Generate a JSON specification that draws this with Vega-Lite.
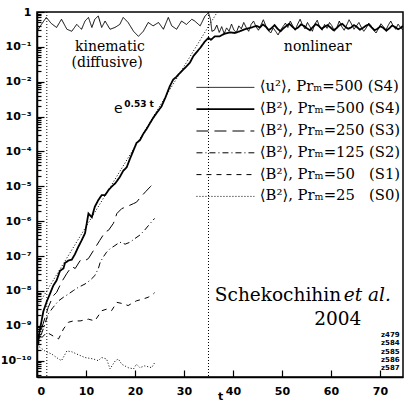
{
  "$schema": "https://vega.github.io/schema/vega-lite/v6.json",
  "width": 366,
  "height": 365,
  "autosize": {"type": "none"},
  "padding": {"left": 37, "top": 12, "right": 1, "bottom": 31},
  "background": "white",
  "config": {
    "view": {"stroke": "black", "strokeWidth": 1.5},
    "axis": {"grid": false, "domainColor": "black", "domainWidth": 1.5, "tickColor": "black", "tickWidth": 1.2, "labelColor": "black", "labelFont": "DejaVu Sans", "labelFontWeight": "bold", "labelFontSize": 11, "titleFont": "DejaVu Sans", "titleFontWeight": "bold", "titleFontSize": 11, "titleColor": "black", "labelOverlap": false},
    "text": {"color": "black"}
  },
  "datasets": {
    "curves": [
      {"s":"u","t":0,"v":0.28},{"s":"u","t":0.9,"v":0.44},{"s":"u","t":1.9,"v":0.7},{"s":"u","t":2.9,"v":0.47},{"s":"u","t":4,"v":0.36},{"s":"u","t":5,"v":0.62},{"s":"u","t":6.1,"v":0.32},{"s":"u","t":7.1,"v":0.28},{"s":"u","t":8.1,"v":0.44},{"s":"u","t":9.1,"v":0.32},{"s":"u","t":9.8,"v":0.55},{"s":"u","t":10.5,"v":0.7},{"s":"u","t":11.2,"v":0.36},{"s":"u","t":11.8,"v":0.62},{"s":"u","t":12.5,"v":0.77},{"s":"u","t":13.2,"v":0.36},{"s":"u","t":13.9,"v":0.55},{"s":"u","t":14.9,"v":0.32},{"s":"u","t":15.9,"v":0.36},{"s":"u","t":16.9,"v":0.44},{"s":"u","t":17.6,"v":0.7},{"s":"u","t":18.6,"v":0.5},{"s":"u","t":19.7,"v":0.28},{"s":"u","t":20.7,"v":0.2},{"s":"u","t":21.7,"v":0.28},{"s":"u","t":22.7,"v":0.5},{"s":"u","t":23.7,"v":0.4},{"s":"u","t":24.8,"v":0.5},{"s":"u","t":25.8,"v":0.32},{"s":"u","t":26.8,"v":0.7},{"s":"u","t":27.5,"v":0.4},{"s":"u","t":28.5,"v":0.32},{"s":"u","t":29.5,"v":0.55},{"s":"u","t":30.5,"v":0.44},{"s":"u","t":31.6,"v":0.62},{"s":"u","t":32.2,"v":0.55},{"s":"u","t":33.3,"v":0.4},{"s":"u","t":34.3,"v":0.77},{"s":"u","t":35,"v":0.95},{"s":"u","t":35.4,"v":0.62},{"s":"u","t":35.7,"v":0.28},
      {"s":"u","t":36.2,"v":0.3},{"s":"u","t":36.7,"v":0.42},{"s":"u","t":37.2,"v":0.26},{"s":"u","t":37.7,"v":0.38},{"s":"u","t":38.2,"v":0.24},{"s":"u","t":38.7,"v":0.35},{"s":"u","t":39.2,"v":0.28},{"s":"u","t":39.7,"v":0.45},{"s":"u","t":40.2,"v":0.3},{"s":"u","t":40.7,"v":0.26},{"s":"u","t":41.2,"v":0.4},{"s":"u","t":41.7,"v":0.33},{"s":"u","t":42.2,"v":0.5},{"s":"u","t":42.7,"v":0.36},{"s":"u","t":43.2,"v":0.28},{"s":"u","t":43.7,"v":0.44},{"s":"u","t":44.2,"v":0.55},{"s":"u","t":44.7,"v":0.38},{"s":"u","t":45.2,"v":0.3},{"s":"u","t":45.7,"v":0.42},{"s":"u","t":46.2,"v":0.6},{"s":"u","t":46.7,"v":0.4},{"s":"u","t":47.2,"v":0.3},{"s":"u","t":47.7,"v":0.25},{"s":"u","t":48.2,"v":0.35},{"s":"u","t":48.7,"v":0.28},{"s":"u","t":49.2,"v":0.22},{"s":"u","t":49.7,"v":0.3},{"s":"u","t":50.2,"v":0.38},{"s":"u","t":50.7,"v":0.48},{"s":"u","t":51.2,"v":0.36},{"s":"u","t":51.7,"v":0.55},{"s":"u","t":52.2,"v":0.4},{"s":"u","t":52.7,"v":0.3},{"s":"u","t":53.2,"v":0.45},{"s":"u","t":53.7,"v":0.62},{"s":"u","t":54.2,"v":0.42},{"s":"u","t":54.7,"v":0.33},{"s":"u","t":55.2,"v":0.5},{"s":"u","t":55.7,"v":0.38},{"s":"u","t":56.2,"v":0.28},{"s":"u","t":56.7,"v":0.45},{"s":"u","t":57.2,"v":0.58},{"s":"u","t":57.7,"v":0.36},{"s":"u","t":58.2,"v":0.3},{"s":"u","t":58.7,"v":0.44},{"s":"u","t":59.2,"v":0.34},{"s":"u","t":59.7,"v":0.5},{"s":"u","t":60.2,"v":0.4},{"s":"u","t":60.7,"v":0.28},{"s":"u","t":61.2,"v":0.36},{"s":"u","t":61.7,"v":0.55},{"s":"u","t":62.2,"v":0.38},{"s":"u","t":62.7,"v":0.3},{"s":"u","t":63.2,"v":0.42},{"s":"u","t":63.7,"v":0.6},{"s":"u","t":64.2,"v":0.45},{"s":"u","t":64.7,"v":0.32},{"s":"u","t":65.2,"v":0.4},{"s":"u","t":65.7,"v":0.5},{"s":"u","t":66.2,"v":0.36},{"s":"u","t":66.7,"v":0.28},{"s":"u","t":67.2,"v":0.35},{"s":"u","t":67.7,"v":0.48},{"s":"u","t":68.2,"v":0.4},{"s":"u","t":68.7,"v":0.3},{"s":"u","t":69.2,"v":0.25},{"s":"u","t":69.7,"v":0.34},{"s":"u","t":70.2,"v":0.46},{"s":"u","t":70.7,"v":0.38},{"s":"u","t":71.2,"v":0.3},{"s":"u","t":71.7,"v":0.42},{"s":"u","t":72.2,"v":0.55},{"s":"u","t":72.7,"v":0.4},{"s":"u","t":73.2,"v":0.32},{"s":"u","t":73.7,"v":0.45},{"s":"u","t":74.2,"v":0.36},{"s":"u","t":74.7,"v":0.3},
      {"s":"S4","t":0,"v":2.6e-10},{"s":"S4","t":0.6,"v":7.9e-10},{"s":"S4","t":1.3,"v":2.6e-9},{"s":"S4","t":2,"v":5e-9},{"s":"S4","t":2.65,"v":8.3e-9},{"s":"S4","t":3.3,"v":1.4e-8},{"s":"S4","t":4,"v":2e-8},{"s":"S4","t":4.7,"v":3.8e-8},{"s":"S4","t":5.4,"v":4.4e-8},{"s":"S4","t":5.7,"v":6.3e-8},{"s":"S4","t":6.4,"v":7.4e-8},{"s":"S4","t":7.1,"v":7.9e-8},{"s":"S4","t":7.7,"v":1.1e-7},{"s":"S4","t":8.4,"v":1.8e-7},{"s":"S4","t":9.1,"v":2.8e-7},{"s":"S4","t":9.8,"v":4.5e-7},{"s":"S4","t":10.5,"v":1.66e-6},{"s":"S4","t":11.2,"v":1.3e-6},{"s":"S4","t":11.8,"v":2.6e-6},{"s":"S4","t":12.5,"v":4e-6},{"s":"S4","t":13.2,"v":5.6e-6},{"s":"S4","t":13.9,"v":5.6e-6},{"s":"S4","t":14.6,"v":7.8e-6},{"s":"S4","t":15.3,"v":1e-5},{"s":"S4","t":16,"v":1.23e-5},{"s":"S4","t":16.9,"v":1.86e-5},{"s":"S4","t":17.6,"v":2.8e-5},{"s":"S4","t":18.3,"v":3.5e-5},{"s":"S4","t":19,"v":6.3e-5},{"s":"S4","t":19.6,"v":1e-4},{"s":"S4","t":20.3,"v":1.74e-4},{"s":"S4","t":21,"v":2.1e-4},{"s":"S4","t":21.7,"v":3.2e-4},{"s":"S4","t":22.4,"v":4.5e-4},{"s":"S4","t":23.1,"v":6.6e-4},{"s":"S4","t":23.7,"v":9.1e-4},{"s":"S4","t":24.4,"v":1.26e-3},{"s":"S4","t":25.4,"v":1.95e-3},{"s":"S4","t":26.2,"v":3.5e-3},{"s":"S4","t":27.1,"v":7.4e-3},{"s":"S4","t":27.8,"v":1.15e-2},{"s":"S4","t":28.5,"v":1.4e-2},{"s":"S4","t":29.2,"v":1.8e-2},{"s":"S4","t":30.5,"v":2.75e-2},{"s":"S4","t":31.2,"v":3.5e-2},{"s":"S4","t":31.9,"v":5.4e-2},{"s":"S4","t":32.6,"v":7.1e-2},{"s":"S4","t":33.3,"v":9.3e-2},{"s":"S4","t":34.3,"v":0.145},{"s":"S4","t":35,"v":0.18},{"s":"S4","t":35.5,"v":0.16},{"s":"S4","t":36.3,"v":0.2},{"s":"S4","t":37.3,"v":0.2},{"s":"S4","t":38.3,"v":0.24},{"s":"S4","t":39.4,"v":0.26},{"s":"S4","t":40.4,"v":0.25},{"s":"S4","t":41.4,"v":0.28},{"s":"S4","t":42.4,"v":0.32},{"s":"S4","t":43.5,"v":0.35},{"s":"S4","t":44.8,"v":0.4},
      {"s":"S4","t":45.5,"v":0.36},{"s":"S4","t":46.1,"v":0.44},{"s":"S4","t":46.7,"v":0.38},{"s":"S4","t":47.3,"v":0.3},{"s":"S4","t":47.9,"v":0.35},{"s":"S4","t":48.5,"v":0.42},{"s":"S4","t":49.1,"v":0.33},{"s":"S4","t":49.7,"v":0.28},{"s":"S4","t":50.3,"v":0.34},{"s":"S4","t":50.9,"v":0.4},{"s":"S4","t":51.5,"v":0.46},{"s":"S4","t":52.1,"v":0.38},{"s":"S4","t":52.7,"v":0.32},{"s":"S4","t":53.3,"v":0.36},{"s":"S4","t":53.9,"v":0.44},{"s":"S4","t":54.5,"v":0.4},{"s":"S4","t":55.1,"v":0.34},{"s":"S4","t":55.7,"v":0.3},{"s":"S4","t":56.3,"v":0.37},{"s":"S4","t":56.9,"v":0.45},{"s":"S4","t":57.5,"v":0.4},{"s":"S4","t":58.1,"v":0.33},{"s":"S4","t":58.7,"v":0.38},{"s":"S4","t":59.3,"v":0.42},{"s":"S4","t":59.9,"v":0.36},{"s":"S4","t":60.5,"v":0.3},{"s":"S4","t":61.1,"v":0.34},{"s":"S4","t":61.7,"v":0.41},{"s":"S4","t":62.3,"v":0.46},{"s":"S4","t":62.9,"v":0.38},{"s":"S4","t":63.5,"v":0.33},{"s":"S4","t":64.1,"v":0.36},{"s":"S4","t":64.7,"v":0.42},{"s":"S4","t":65.3,"v":0.37},{"s":"S4","t":65.9,"v":0.31},{"s":"S4","t":66.5,"v":0.35},{"s":"S4","t":67.1,"v":0.4},{"s":"S4","t":67.7,"v":0.44},{"s":"S4","t":68.3,"v":0.36},{"s":"S4","t":68.9,"v":0.3},{"s":"S4","t":69.5,"v":0.33},{"s":"S4","t":70.1,"v":0.39},{"s":"S4","t":70.7,"v":0.35},{"s":"S4","t":71.3,"v":0.29},{"s":"S4","t":71.9,"v":0.34},{"s":"S4","t":72.5,"v":0.41},{"s":"S4","t":73.1,"v":0.37},{"s":"S4","t":73.7,"v":0.32},{"s":"S4","t":74.3,"v":0.36},{"s":"S4","t":74.7,"v":0.4},
      {"s":"S3","t":0,"v":2.5e-10},{"s":"S3","t":1,"v":8.9e-10},{"s":"S3","t":2.3,"v":3.4e-9},{"s":"S3","t":3.3,"v":7.2e-9},{"s":"S3","t":4,"v":9.1e-9},{"s":"S3","t":5,"v":1.78e-8},{"s":"S3","t":6.1,"v":3.2e-8},{"s":"S3","t":7.1,"v":5e-8},{"s":"S3","t":7.8,"v":4.4e-8},{"s":"S3","t":8.8,"v":7.4e-8},{"s":"S3","t":9.6,"v":7.1e-8},{"s":"S3","t":10.5,"v":8.5e-8},{"s":"S3","t":11.8,"v":1.66e-7},{"s":"S3","t":12.8,"v":2.8e-7},{"s":"S3","t":13.9,"v":4.9e-7},{"s":"S3","t":14.6,"v":5.5e-7},{"s":"S3","t":15.6,"v":8.7e-7},{"s":"S3","t":16.3,"v":1.66e-6},{"s":"S3","t":17.3,"v":2.3e-6},{"s":"S3","t":18.3,"v":2.6e-6},{"s":"S3","t":19.7,"v":3.2e-6},{"s":"S3","t":20.3,"v":3.5e-6},{"s":"S3","t":21.2,"v":5e-6},{"s":"S3","t":22.2,"v":7.1e-6},{"s":"S3","t":23.2,"v":1e-5},{"s":"S3","t":24,"v":1.32e-5},
      {"s":"S2","t":0,"v":2.5e-10},{"s":"S2","t":1,"v":6.3e-10},{"s":"S2","t":2.3,"v":2.2e-9},{"s":"S2","t":3.3,"v":3.4e-9},{"s":"S2","t":4.4,"v":5.2e-9},{"s":"S2","t":5.4,"v":6.6e-9},{"s":"S2","t":6.4,"v":8.1e-9},{"s":"S2","t":7.4,"v":1.02e-8},{"s":"S2","t":8.4,"v":1.26e-8},{"s":"S2","t":9.8,"v":1.58e-8},{"s":"S2","t":10.8,"v":2e-8},{"s":"S2","t":11.8,"v":2.75e-8},{"s":"S2","t":12.5,"v":4.3e-8},{"s":"S2","t":12.9,"v":6.6e-8},{"s":"S2","t":13.5,"v":9.3e-8},{"s":"S2","t":14.2,"v":1.29e-7},{"s":"S2","t":14.9,"v":1.62e-7},{"s":"S2","t":15.9,"v":2e-7},{"s":"S2","t":16.9,"v":2.5e-7},{"s":"S2","t":18,"v":2.2e-7},{"s":"S2","t":19,"v":2.5e-7},{"s":"S2","t":20,"v":3.2e-7},{"s":"S2","t":21,"v":4e-7},{"s":"S2","t":22,"v":5.6e-7},{"s":"S2","t":23,"v":8.3e-7},{"s":"S2","t":24,"v":1.2e-6},
      {"s":"S1","t":0,"v":2.5e-10},{"s":"S1","t":1,"v":4.6e-10},{"s":"S1","t":2,"v":6.5e-10},{"s":"S1","t":3.3,"v":5.1e-10},{"s":"S1","t":4.4,"v":4.2e-10},{"s":"S1","t":5.4,"v":8.1e-10},{"s":"S1","t":6.4,"v":1.26e-9},{"s":"S1","t":7.4,"v":1.38e-9},{"s":"S1","t":8.8,"v":1.38e-9},{"s":"S1","t":10.5,"v":1.55e-9},{"s":"S1","t":11.8,"v":1.38e-9},{"s":"S1","t":13.2,"v":2.7e-9},{"s":"S1","t":14.2,"v":3e-9},{"s":"S1","t":15.2,"v":2.7e-9},{"s":"S1","t":16.3,"v":4.7e-9},{"s":"S1","t":17.6,"v":4.3e-9},{"s":"S1","t":18.6,"v":3.8e-9},{"s":"S1","t":19.7,"v":4.7e-9},{"s":"S1","t":20.3,"v":5.2e-9},{"s":"S1","t":21.7,"v":5.9e-9},{"s":"S1","t":22.7,"v":6.6e-9},{"s":"S1","t":23.7,"v":8.1e-9},{"s":"S1","t":24,"v":8.9e-9},
      {"s":"S0","t":0,"v":2.8e-10},{"s":"S0","t":0.3,"v":2.6e-10},{"s":"S0","t":1.6,"v":1.9e-10},{"s":"S0","t":3,"v":1.55e-10},{"s":"S0","t":4.4,"v":1.12e-10},{"s":"S0","t":5,"v":1e-10},{"s":"S0","t":6.1,"v":1.9e-10},{"s":"S0","t":7.1,"v":1.8e-10},{"s":"S0","t":8.1,"v":1.55e-10},{"s":"S0","t":9.8,"v":1.23e-10},{"s":"S0","t":11.5,"v":1.12e-10},{"s":"S0","t":12.5,"v":1e-10},{"s":"S0","t":13.2,"v":1.23e-10},{"s":"S0","t":14.2,"v":1.12e-10},{"s":"S0","t":14.9,"v":5.8e-11},{"s":"S0","t":16,"v":1e-10},{"s":"S0","t":16.6,"v":1.12e-10},{"s":"S0","t":17.3,"v":7.9e-11},{"s":"S0","t":18.6,"v":6.3e-11},{"s":"S0","t":19.7,"v":5.8e-11},{"s":"S0","t":20.3,"v":7.9e-11},{"s":"S0","t":21,"v":6.3e-11},{"s":"S0","t":22,"v":7.1e-11},{"s":"S0","t":23.4,"v":6.3e-11},{"s":"S0","t":24,"v":8.7e-11}
    ],
    "fit": [{"t":0,"v":3.5e-9},{"t":36.8,"v":1.0}],
    "vlines": [{"t":2},{"t":35}],
    "notes": [
      {"k":"regime","t":14.9,"v":0.1,"label":"kinematic"},
      {"k":"regime","t":14.3,"v":0.0355,"label":"(diffusive)"},
      {"k":"regime","t":57.3,"v":0.1,"label":"nonlinear"},
      {"k":"e","t":15.7,"v":1.66e-3,"label":"e"},
      {"k":"exp","t":17.8,"v":2.34e-3,"label":"0.53 t"},
      {"k":"author","t":36.3,"v":7.8e-9,"label":"Schekochihin"},
      {"k":"etal","t":62.6,"v":7.8e-9,"label":"et al."},
      {"k":"year","t":61.4,"v":1.55e-9,"label":"2004"},
      {"k":"z","t":70.2,"v":5.5e-10,"label":"z479"},
      {"k":"z","t":70.2,"v":3.2e-10,"label":"z584"},
      {"k":"z","t":70.2,"v":1.8e-10,"label":"z585"},
      {"k":"z","t":70.2,"v":1.05e-10,"label":"z586"},
      {"k":"z","t":70.2,"v":6.2e-11,"label":"z587"}
    ]
  },
  "layer": [
    {
      "data": {"name": "curves"},
      "mark": {"type": "line", "color": "black", "clip": true},
      "encoding": {
        "x": {"field": "t", "type": "quantitative", "scale": {"domain": [0, 74.7], "nice": false, "zero": false},
          "axis": {"orient": "bottom", "values": [0,5,10,15,20,25,30,35,40,45,50,55,60,65,70], "format": "d",
            "labelExpr": "datum.value % 10 == 0 ? datum.label : ''",
            "tickSize": {"condition": {"test": "datum.value % 10 == 0", "value": -7}, "value": -4},
            "labelPadding": 15, "title": "t", "titlePadding": -6}},
        "y": {"field": "v", "type": "quantitative", "scale": {"type": "log", "domain": [3.4e-11, 1], "nice": false},
          "axis": {"orient": "left", "title": null,
            "values": [4e-11,5e-11,6e-11,7e-11,8e-11,9e-11,1e-10,2e-10,3e-10,4e-10,5e-10,6e-10,7e-10,8e-10,9e-10,1e-9,2e-9,3e-9,4e-9,5e-9,6e-9,7e-9,8e-9,9e-9,1e-8,2e-8,3e-8,4e-8,5e-8,6e-8,7e-8,8e-8,9e-8,1e-7,2e-7,3e-7,4e-7,5e-7,6e-7,7e-7,8e-7,9e-7,1e-6,2e-6,3e-6,4e-6,5e-6,6e-6,7e-6,8e-6,9e-6,1e-5,2e-5,3e-5,4e-5,5e-5,6e-5,7e-5,8e-5,9e-5,1e-4,2e-4,3e-4,4e-4,5e-4,6e-4,7e-4,8e-4,9e-4,1e-3,2e-3,3e-3,4e-3,5e-3,6e-3,7e-3,8e-3,9e-3,1e-2,2e-2,3e-2,4e-2,5e-2,6e-2,7e-2,8e-2,9e-2,0.1,0.2,0.3,0.4,0.5,0.6,0.7,0.8,0.9,1],
            "labelExpr": "abs(log(datum.value)/LN10 - round(log(datum.value)/LN10)) > 0.001 ? '' : (datum.value >= 0.999 ? '1' : '10⁻' + (round(-log(datum.value)/LN10) == 10 ? '¹⁰' : ['','¹','²','³','⁴','⁵','⁶','⁷','⁸','⁹'][round(-log(datum.value)/LN10)]))",
            "tickSize": {"condition": {"test": "abs(log(datum.value)/LN10 - round(log(datum.value)/LN10)) < 0.001", "value": -7}, "value": -4},
            "labelPadding": 13}},
        "strokeDash": {"field": "s", "type": "nominal",
          "scale": {"domain": ["u","S4","S3","S2","S1","S0"], "range": [[1,0],[1,0],[12,6],[6,3,1,3],[5,5],[1,2]]},
          "legend": {"orient": "none", "legendX": 181, "legendY": 68, "title": null, "symbolType": "M-5,0H5", "symbolSize": 134, "symbolStrokeColor": "black", "symbolFillColor": "transparent", "labelFont": "DejaVu Serif", "labelFontSize": 14.8, "labelColor": "black", "labelOffset": 27, "rowPadding": 5.8, "padding": 0, "labelLimit": 300,
            "labelExpr": "datum.label == 'u' ? '⟨u²⟩, Prₘ=500 (S4)' : datum.label == 'S4' ? '⟨B²⟩, Prₘ=500 (S4)' : datum.label == 'S3' ? '⟨B²⟩, Prₘ=250 (S3)' : datum.label == 'S2' ? '⟨B²⟩, Prₘ=125 (S2)' : datum.label == 'S1' ? '⟨B²⟩, Prₘ=50\u2007 (S1)' : '⟨B²⟩, Prₘ=25\u2007 (S0)'"}},
        "strokeWidth": {"field": "s", "type": "nominal",
          "scale": {"type": "ordinal", "domain": ["u","S4","S3","S2","S1","S0"], "range": [1,1.8,1,1,1,1]},
          "legend": {"orient": "none", "legendX": 181, "legendY": 68, "title": null, "symbolType": "M-5,0H5", "symbolSize": 134, "symbolStrokeColor": "black", "symbolFillColor": "transparent", "labelFont": "DejaVu Serif", "labelFontSize": 14.8, "labelColor": "black", "labelOffset": 27, "rowPadding": 5.8, "padding": 0, "labelLimit": 300,
            "labelExpr": "datum.label == 'u' ? '⟨u²⟩, Prₘ=500 (S4)' : datum.label == 'S4' ? '⟨B²⟩, Prₘ=500 (S4)' : datum.label == 'S3' ? '⟨B²⟩, Prₘ=250 (S3)' : datum.label == 'S2' ? '⟨B²⟩, Prₘ=125 (S2)' : datum.label == 'S1' ? '⟨B²⟩, Prₘ=50\u2007 (S1)' : '⟨B²⟩, Prₘ=25\u2007 (S0)'"}}
      }
    },
    {
      "data": {"name": "fit"},
      "mark": {"type": "line", "color": "black", "strokeWidth": 1, "strokeDash": [1, 2], "clip": true},
      "encoding": {
        "x": {"field": "t", "type": "quantitative"},
        "y": {"field": "v", "type": "quantitative"}
      }
    },
    {
      "data": {"name": "vlines"},
      "mark": {"type": "rule", "color": "black", "strokeWidth": 1, "strokeDash": [1, 2]},
      "encoding": {"x": {"field": "t", "type": "quantitative"}}
    },
    {
      "data": {"name": "notes"},
      "transform": [{"filter": "datum.k == 'regime'"}],
      "mark": {"type": "text", "font": "DejaVu Serif", "fontSize": 14, "align": "center", "baseline": "middle"},
      "encoding": {"x": {"field": "t", "type": "quantitative"}, "y": {"field": "v", "type": "quantitative"}, "text": {"field": "label"}}
    },
    {
      "data": {"name": "notes"},
      "transform": [{"filter": "datum.k == 'e'"}],
      "mark": {"type": "text", "font": "DejaVu Sans", "fontSize": 14, "align": "left", "baseline": "middle"},
      "encoding": {"x": {"field": "t", "type": "quantitative"}, "y": {"field": "v", "type": "quantitative"}, "text": {"field": "label"}}
    },
    {
      "data": {"name": "notes"},
      "transform": [{"filter": "datum.k == 'exp'"}],
      "mark": {"type": "text", "font": "DejaVu Sans", "fontSize": 9, "fontWeight": "bold", "align": "left", "baseline": "middle"},
      "encoding": {"x": {"field": "t", "type": "quantitative"}, "y": {"field": "v", "type": "quantitative"}, "text": {"field": "label"}}
    },
    {
      "data": {"name": "notes"},
      "transform": [{"filter": "datum.k == 'author'"}],
      "mark": {"type": "text", "font": "DejaVu Serif", "fontSize": 18.5, "align": "left", "baseline": "middle"},
      "encoding": {"x": {"field": "t", "type": "quantitative"}, "y": {"field": "v", "type": "quantitative"}, "text": {"field": "label"}}
    },
    {
      "data": {"name": "notes"},
      "transform": [{"filter": "datum.k == 'etal'"}],
      "mark": {"type": "text", "font": "DejaVu Serif", "fontSize": 18.5, "fontStyle": "italic", "align": "left", "baseline": "middle"},
      "encoding": {"x": {"field": "t", "type": "quantitative"}, "y": {"field": "v", "type": "quantitative"}, "text": {"field": "label"}}
    },
    {
      "data": {"name": "notes"},
      "transform": [{"filter": "datum.k == 'year'"}],
      "mark": {"type": "text", "font": "DejaVu Serif", "fontSize": 18.5, "align": "center", "baseline": "middle"},
      "encoding": {"x": {"field": "t", "type": "quantitative"}, "y": {"field": "v", "type": "quantitative"}, "text": {"field": "label"}}
    },
    {
      "data": {"name": "notes"},
      "transform": [{"filter": "datum.k == 'z'"}],
      "mark": {"type": "text", "font": "DejaVu Sans", "fontSize": 7, "fontWeight": "bold", "align": "left", "baseline": "middle"},
      "encoding": {"x": {"field": "t", "type": "quantitative"}, "y": {"field": "v", "type": "quantitative"}, "text": {"field": "label"}}
    }
  ]
}
